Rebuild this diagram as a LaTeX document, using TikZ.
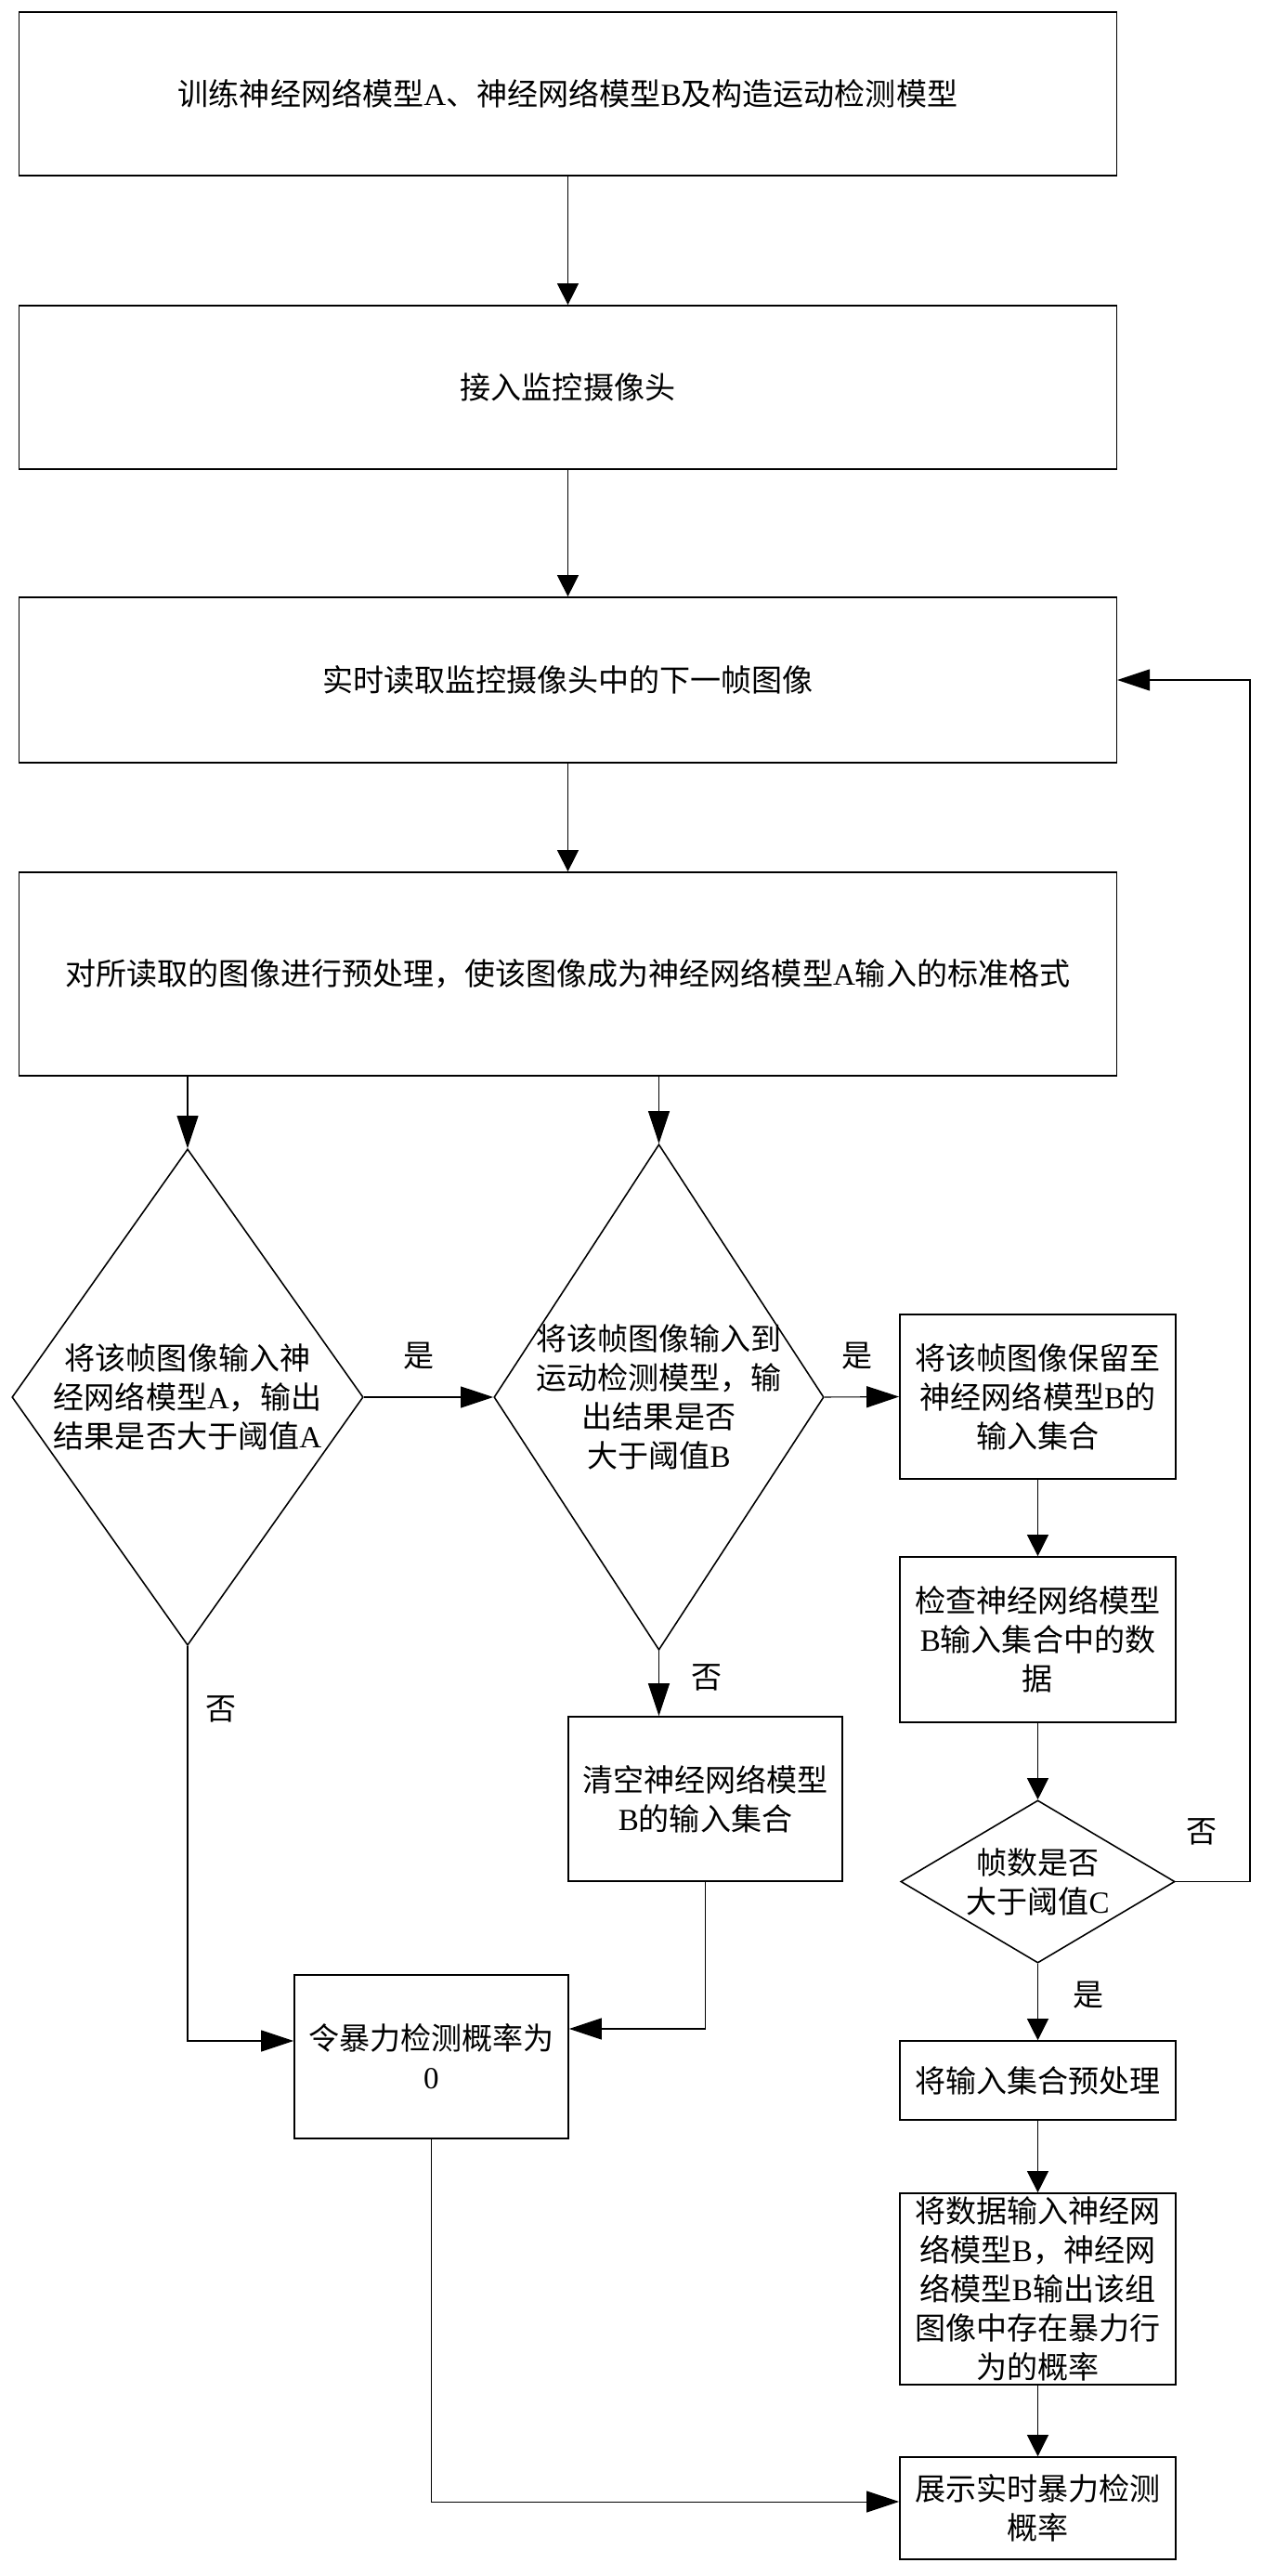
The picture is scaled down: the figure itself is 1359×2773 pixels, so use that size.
\documentclass[tikz,border=0pt]{standalone}
\usepackage{fontspec}
\setmainfont{Noto Sans CJK SC}
\newfontfamily\lat{Liberation Serif}
\usetikzlibrary{shapes.geometric,arrows.meta}
\begin{document}
\begin{tikzpicture}[x=0.01cm,y=-0.01cm,
  font=\fontsize{9.4pt}{11.9pt}\selectfont,
  box/.style={draw,line width=0.45pt,rectangle,inner sep=0pt,align=center},
  dia/.style={draw,line width=0.45pt,diamond,inner sep=0pt},
  txt/.style={align=center,inner sep=0pt},
  lbl/.style={inner sep=0pt},
  arr/.style={line width=0.3pt,-{Triangle[length=0.23cm,width=0.23cm]}},
  arrl/.style={line width=0.3pt,-{Triangle[length=0.35cm,width=0.23cm]}},
  ln/.style={line width=0.3pt}]
\useasboundingbox (0,0) rectangle (1359,2773);

% main column
\node[box,minimum width=11.81cm,minimum height=1.76cm] (n1) at (611.5,101)
  {训练神经网络模型{\lat A}、神经网络模型{\lat B}及构造运动检测模型};
\node[box,minimum width=11.81cm,minimum height=1.76cm] (n2) at (611.5,417)
  {接入监控摄像头};
\node[box,minimum width=11.81cm,minimum height=1.78cm] (n3) at (611.5,732)
  {实时读取监控摄像头中的下一帧图像};
\node[box,minimum width=11.81cm,minimum height=2.19cm] (n4) at (611.5,1048.5)
  {对所读取的图像进行预处理，使该图像成为神经网络模型{\lat A}输入的标准格式};

% decisions
\node[dia,minimum width=3.78cm,minimum height=5.34cm] (d1) at (202,1504) {};
\node[txt] (d1t) at (d1.center)
  {将该帧图像输入神\\经网络模型{\lat A}，输出\\结果是否大于阈值{\lat A}};
\node[dia,minimum width=3.55cm,minimum height=5.44cm] (d2) at (709.5,1504) {};
\node[txt] (d2t) at (d2.center)
  {将该帧图像输入到\\运动检测模型，输\\出结果是否\\大于阈值{\lat B}};

% right column
\node[box,minimum width=2.97cm,minimum height=1.77cm] (b5) at (1117.5,1503.5)
  {将该帧图像保留至\\神经网络模型{\lat B}的\\输入集合};
\node[box,minimum width=2.97cm,minimum height=1.78cm] (b6) at (1117.5,1765)
  {检查神经网络模型\\{\lat B}输入集合中的数\\据};
\node[dia,minimum width=2.95cm,minimum height=1.75cm] (d3) at (1117.5,2025.5) {};
\node[txt] (d3t) at (d3.center) {帧数是否\\大于阈值{\lat C}};
\node[box,minimum width=2.97cm,minimum height=0.85cm] (b9) at (1117.5,2239.5)
  {将输入集合预处理};
\node[box,minimum width=2.97cm,minimum height=2.06cm] (b10) at (1117.5,2464)
  {将数据输入神经网\\络模型{\lat B}，神经网\\络模型{\lat B}输出该组\\图像中存在暴力行\\为的概率};
\node[box,minimum width=2.97cm,minimum height=1.10cm] (b11) at (1117.5,2700)
  {展示实时暴力检测\\概率};

% middle boxes
\node[box,minimum width=2.95cm,minimum height=1.77cm] (b8) at (759.5,1936.5)
  {清空神经网络模型\\{\lat B}的输入集合};
\node[box,minimum width=2.95cm,minimum height=1.76cm] (b7) at (464.5,2214)
  {令暴力检测概率为\\{\lat 0}};

% labels
\node[lbl] (y1) at (451,1460) {是};
\node[lbl] (y2) at (923,1460) {是};
\node[lbl] (y3) at (1172,2148) {是};
\node[lbl] (f1) at (238,1840) {否};
\node[lbl] (f2) at (761,1806) {否};
\node[lbl] (f3) at (1294,1972) {否};

% connectors
\draw[arr] (n1) -- (n2);
\draw[arr] (n2) -- (n3);
\draw[arr] (n3) -- (n4);
\draw[arrl] (d1.north |- n4.south) -- (d1.north);
\draw[arrl] (d2.north |- n4.south) -- (d2.north);
\draw[arrl] (d1.east) -- (d2.west);
\draw[arrl] (d2.east) -- (b5.west);
\draw[arr] (b5) -- (b6);
\draw[arr] (b6) -- (d3.north);
\draw[arr] (d3.south) -- (b9);
\draw[arr] (b9) -- (b10);
\draw[arr] (b10) -- (b11);
\draw[arrl] (d2.south) -- (b8.north -| d2.south);
\draw[arrl] (d1.south) |- ([yshift=0.17cm]b7.west);
\draw[arrl] (b8.south) |- ([yshift=0.30cm]b7.east);
\draw[arrl] (b7.south) |- ([yshift=0.07cm]b11.west);
\coordinate (lp) at (1346,732);
\draw[arrl] (d3.east) -| (lp) -- (n3.east);
\end{tikzpicture}
\end{document}
